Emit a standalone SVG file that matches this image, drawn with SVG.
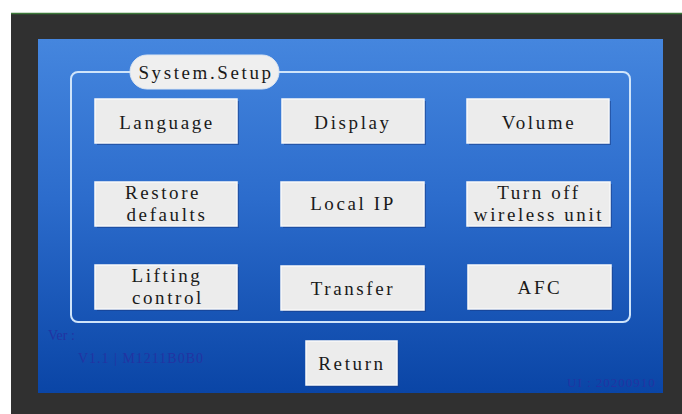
<svg xmlns="http://www.w3.org/2000/svg" width="682" height="414" viewBox="0 0 682 414">
<style>
.btn{fill:#ececec;stroke:#f9f9f9;stroke-width:1.5}
.shd{fill:#173c86;opacity:0.55}
.lbl{font-family:"Liberation Serif","DejaVu Serif",serif;font-size:19px;letter-spacing:2.6px;fill:#1a1a1a;text-anchor:middle}
.info{font-family:"Liberation Serif","DejaVu Serif",serif;font-size:14px;fill:#2234a2}
.mono{font-family:"Liberation Serif","DejaVu Serif",serif;fill:#2234a2;letter-spacing:1px}
</style>
<defs>
<linearGradient id="scr" x1="0" y1="0" x2="0" y2="1">
<stop offset="0" stop-color="#4586de"/>
<stop offset="0.45" stop-color="#2c6ccc"/>
<stop offset="1" stop-color="#0a45a6"/>
</linearGradient>
</defs>
<rect x="0" y="0" width="682" height="414" fill="#ffffff"/>
<rect x="11" y="13" width="671" height="401" fill="#303030"/>
<line x1="11" y1="13.5" x2="682" y2="13.5" stroke="#3d7a3a" stroke-width="1.5"/>
<rect x="38" y="39" width="625" height="354" fill="url(#scr)"/>
<g id="panel">
<rect x="71" y="72" width="559" height="250" rx="7" fill="none" stroke="#cfe4fa" stroke-width="2"/>
</g>
<g id="title">
<rect x="130" y="55" width="149" height="34" rx="17" fill="#efefef" stroke="#dde6f2" stroke-width="1"/>
<text class="lbl" x="206" y="79" letter-spacing="1.2">System.Setup</text>
</g>
<g id="language">
<rect class="shd" x="97" y="101" width="142" height="44"/>
<rect class="btn" x="95" y="99" width="142" height="44"/>
<text class="lbl" x="167" y="129">Language</text>
</g>
<g id="display">
<rect class="shd" x="284" y="101" width="142" height="44"/>
<rect class="btn" x="282" y="99" width="142" height="44"/>
<text class="lbl" x="353" y="129">Display</text>
</g>
<g id="volume">
<rect class="shd" x="469" y="101" width="142" height="44"/>
<rect class="btn" x="467" y="99" width="142" height="44"/>
<text class="lbl" x="539" y="129">Volume</text>
</g>
<g id="restore">
<rect class="shd" x="97" y="184" width="142" height="44"/>
<rect class="btn" x="95" y="182" width="142" height="44"/>
<text class="lbl" x="163" y="199">Restore</text>
<text class="lbl" x="167" y="221">defaults</text>
</g>
<g id="localip">
<rect class="shd" x="283" y="184" width="143" height="44"/>
<rect class="btn" x="281" y="182" width="143" height="44"/>
<text class="lbl" x="353" y="210">Local IP</text>
</g>
<g id="turnoff">
<rect class="shd" x="469" y="184" width="143" height="44"/>
<rect class="btn" x="467" y="182" width="143" height="44"/>
<text class="lbl" x="539" y="199">Turn off</text>
<text class="lbl" x="539" y="221">wireless unit</text>
</g>
<g id="lifting">
<rect class="shd" x="97" y="267" width="142" height="44"/>
<rect class="btn" x="95" y="265" width="142" height="44"/>
<text class="lbl" x="167" y="282">Lifting</text>
<text class="lbl" x="168" y="304">control</text>
</g>
<g id="transfer">
<rect class="shd" x="283" y="268" width="143" height="44"/>
<rect class="btn" x="281" y="266" width="143" height="44"/>
<text class="lbl" x="353" y="295">Transfer</text>
</g>
<g id="afc">
<rect class="shd" x="470" y="267" width="143" height="44"/>
<rect class="btn" x="468" y="265" width="143" height="44"/>
<text class="lbl" x="540" y="294">AFC</text>
</g>
<g id="return">
<rect class="shd" x="308" y="343" width="91" height="44"/>
<rect class="btn" x="306" y="341" width="91" height="44"/>
<text class="lbl" x="352" y="370">Return</text>
</g>
<g id="version">
<text class="info" x="48" y="340">Ver :</text>
<text class="mono" x="78" y="363" font-size="14">V1.1 | M1211B0B0</text>
</g>
<g id="ui">
<text class="mono" x="567" y="387" font-size="13">UI : 20200910</text>
</g>
</svg>
